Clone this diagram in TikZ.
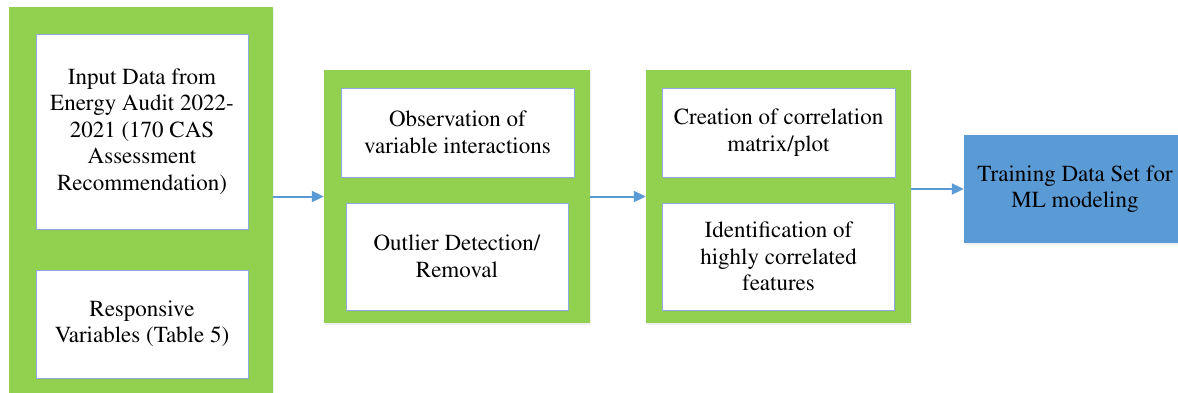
\documentclass[tikz,border=0pt]{standalone}
\usepackage[T1]{fontenc}
\renewcommand{\rmdefault}{ptm}
\usetikzlibrary{arrows.meta,shadows}
\definecolor{wgreen}{HTML}{92D050}
\definecolor{wblue}{HTML}{5B9BD5}
\definecolor{wline}{HTML}{8FAADC}
\tikzset{
  greenbox/.style={fill=wgreen, draw=none, inner sep=0pt,
    drop shadow={opacity=0.12, shadow xshift=1pt, shadow yshift=-2pt}},
  whitebox/.style={fill=white, draw=wline, line width=0.8pt, inner sep=2pt,
    align=center, font=\rmfamily\fontsize{23}{26.5}\selectfont,
    drop shadow={opacity=0.12, shadow xshift=1pt, shadow yshift=-2pt}},
  bluebox/.style={fill=wblue, draw=none, inner sep=2pt, align=center,
    font=\rmfamily\fontsize{23}{26.5}\selectfont,
    drop shadow={opacity=0.12, shadow xshift=1pt, shadow yshift=-2pt}},
  flow/.style={draw=wblue, line width=2pt, -{Triangle[length=12pt,width=11pt]}},
}
\begin{document}
\begin{tikzpicture}[x=1pt,y=-1pt]
\useasboundingbox (0,0) rectangle (1178,393);
\clip (0,0) rectangle (1178,393);
\fill[white] (0,0) rectangle (1178,393);
% containers
\node[greenbox, minimum width=264pt, minimum height=400pt] (g1) at (141,207) {};
\node[greenbox, minimum width=266pt, minimum height=253pt] (g2) at (457,196.5) {};
\node[greenbox, minimum width=265pt, minimum height=253pt] (g3) at (778.5,196.5) {};
% inner boxes
\node[whitebox, minimum width=212pt, minimum height=195pt] (a1) at (142,131.5)
  {Input Data from\\Energy Audit 2022-\\2021 (170 CAS\\Assessment\\Recommendation)};
\node[whitebox, minimum width=212pt, minimum height=108pt] (a2) at (142,324)
  {Responsive\\Variables (Table 5)};
\node[whitebox, minimum width=233pt, minimum height=89pt] (b1) at (457.5,132.5)
  {Observation of\\variable interactions};
\node[whitebox, minimum width=222pt, minimum height=107pt] (b2) at (457,256.5)
  {Outlier Detection/\\Removal};
\node[whitebox, minimum width=233pt, minimum height=89pt] (c1) at (778.5,132.5)
  {Creation of correlation\\matrix/plot};
\node[whitebox, minimum width=232pt, minimum height=107pt] (c2) at (778.5,256.5)
  {Identification of\\highly correlated\\features};
\node[bluebox, minimum width=222pt, minimum height=108pt] (d) at (1075,189)
  {Training Data Set for\\ML modeling};
% connectors
\draw[flow] (g1.east |- g2.west) -- (g2.west);
\draw[flow] (g2.east) -- (g3.west);
\draw[flow] (g3.east |- d.west) -- (d.west);
\end{tikzpicture}
\end{document}
